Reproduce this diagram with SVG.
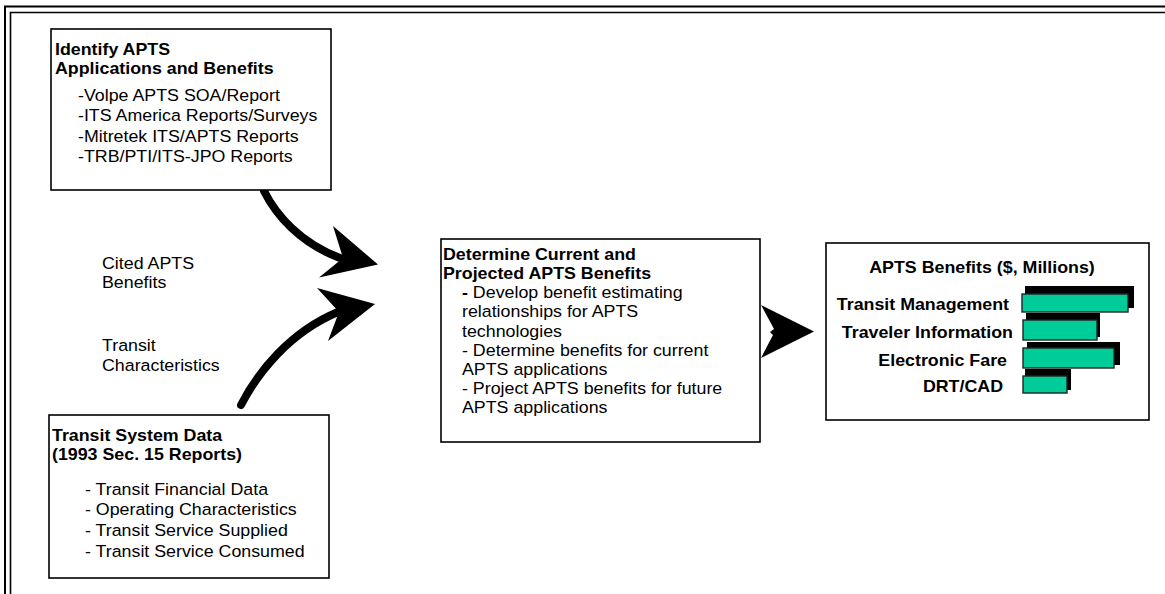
<svg xmlns="http://www.w3.org/2000/svg" width="1165" height="594" viewBox="0 0 1165 594">
<style>
.box{fill:#fff;stroke:#000;stroke-width:1.6}
.t{font-family:"Liberation Sans",Arial,sans-serif;font-size:16.5px;fill:#000;transform-box:fill-box;transform-origin:0 0;transform:scaleX(1.08)}
.e{transform-origin:100% 0}
.m{transform-origin:50% 0}
.b{font-weight:bold}
.bar{fill:#00CC99;stroke:#222;stroke-width:1.4}
.sh{fill:#000}
.shaft{fill:none;stroke:#000;stroke-width:8;stroke-linecap:round}
</style>
<rect width="1165" height="594" fill="#fff"/>
<g id="frame" fill="none" stroke="#000">
<path d="M5,594 V6.5 H1165" stroke-width="2"/>
<path d="M10.5,594 V12.5 H1165" stroke-width="1.6"/>
</g>
<g id="connectors">
<path class="shaft" d="M264,191 C276,215 300,243 340,258"/>
<polygon points="378,264.5 333,226 343,258 319,277.5" fill="#000"/>
<path class="shaft" d="M241,405 C258,372 290,332 338,312"/>
<polygon points="375,304 317,288 339,312 328,341" fill="#000"/>
<polygon points="761,305 814,331.5 761,358 773,335 770,332 774,329" fill="#000"/>
</g>
<g id="identify">
<rect class="box" x="51" y="29" width="280" height="161"/>
<text class="t b" x="55" y="55">Identify APTS</text>
<text class="t b" x="55" y="74">Applications and Benefits</text>
<text class="t" x="78" y="101">-Volpe APTS SOA/Report</text>
<text class="t" x="78" y="121.3">-ITS America Reports/Surveys</text>
<text class="t" x="78" y="141.6">-Mitretek ITS/APTS Reports</text>
<text class="t" x="78" y="162">-TRB/PTI/ITS-JPO Reports</text>
</g>
<g id="labels">
<text class="t" x="102" y="269">Cited APTS</text>
<text class="t" x="102" y="288">Benefits</text>
<text class="t" x="102" y="351">Transit</text>
<text class="t" x="102" y="371">Characteristics</text>
</g>
<g id="transit">
<rect class="box" x="49" y="415" width="280" height="163"/>
<text class="t b" x="52" y="441">Transit System Data</text>
<text class="t b" x="52" y="460">(1993 Sec. 15 Reports)</text>
<text class="t" x="85" y="495">- Transit Financial Data</text>
<text class="t" x="85" y="515">- Operating Characteristics</text>
<text class="t" x="85" y="536">- Transit Service Supplied</text>
<text class="t" x="85" y="557">- Transit Service Consumed</text>
</g>
<g id="determine">
<rect class="box" x="441" y="239" width="319" height="203"/>
<text class="t b" x="443" y="260">Determine Current and</text>
<text class="t b" x="443" y="279">Projected APTS Benefits</text>
<text class="t" x="462" y="298"><tspan class="b">-</tspan> Develop benefit estimating</text>
<text class="t" x="462" y="317">relationships for APTS</text>
<text class="t" x="462" y="337">technologies</text>
<text class="t" x="462" y="356">- Determine benefits for current</text>
<text class="t" x="462" y="375">APTS applications</text>
<text class="t" x="462" y="394">- Project APTS benefits for future</text>
<text class="t" x="462" y="413">APTS applications</text>
</g>
<g id="benefits">
<rect class="box" x="826" y="243" width="323" height="177"/>
<text class="t b m" x="982" y="273" text-anchor="middle">APTS Benefits ($, Millions)</text>
<text class="t b e" x="1009" y="310" text-anchor="end">Transit Management</text>
<text class="t b e" x="1013" y="338" text-anchor="end">Traveler Information</text>
<text class="t b e" x="1007" y="366" text-anchor="end">Electronic Fare</text>
<text class="t b e" x="1003" y="392" text-anchor="end">DRT/CAD</text>
<rect class="sh" x="1025" y="286" width="109" height="22"/>
<rect class="bar" x="1022" y="294" width="106" height="18"/>
<rect class="sh" x="1026" y="313" width="74" height="24"/>
<rect class="bar" x="1023" y="320" width="74" height="20"/>
<rect class="sh" x="1027" y="342" width="93" height="23"/>
<rect class="bar" x="1023" y="348" width="91" height="20"/>
<rect class="sh" x="1025" y="369" width="46" height="21"/>
<rect class="bar" x="1023" y="376" width="44" height="17"/>
</g>
</svg>
